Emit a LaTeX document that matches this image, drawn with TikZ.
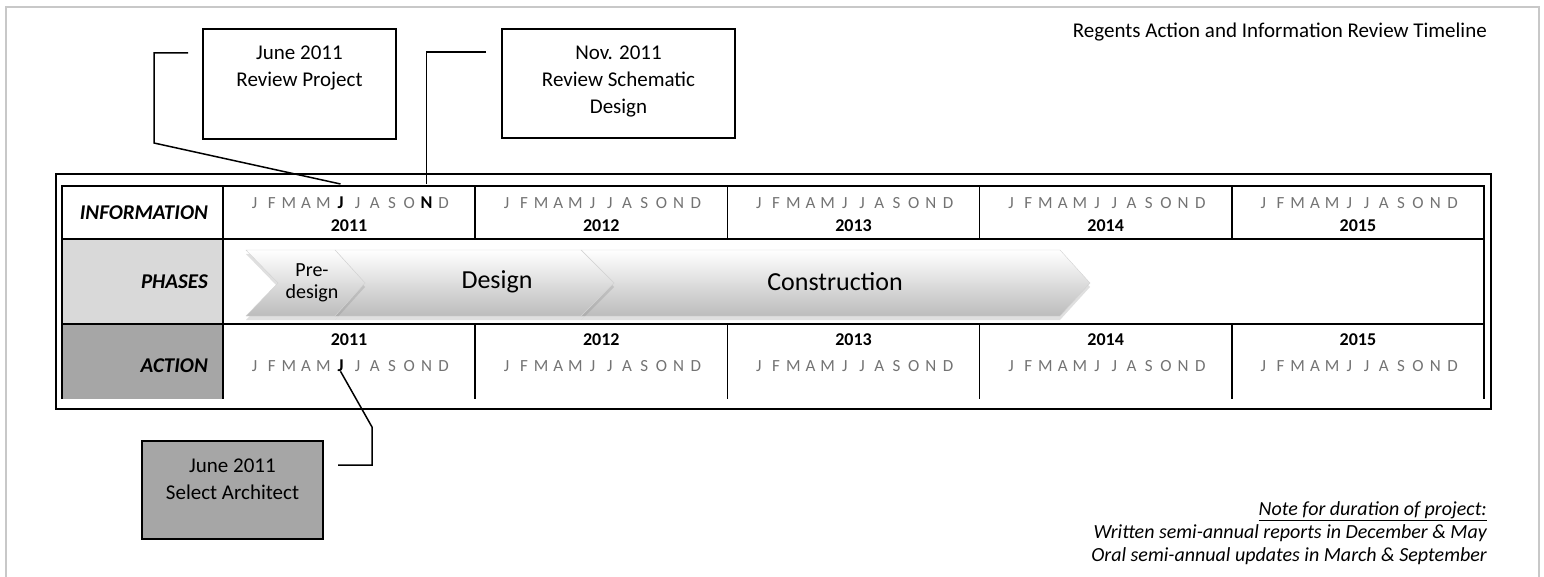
\documentclass[tikz,border=0pt]{standalone}
\usepackage{fontspec}
\setmainfont{Carlito}
\usepackage{tikz}
\usetikzlibrary{positioning,shadows}

\definecolor{framegray}{HTML}{C8C8C8}
\definecolor{monthgray}{HTML}{737373}
\definecolor{phasefill}{HTML}{D9D9D9}
\definecolor{actionfill}{HTML}{A6A6A6}
\definecolor{chevbot}{HTML}{BCBCBC}

\begin{document}
\begin{tikzpicture}[x=1pt,y=-1pt,
	callout/.style={draw=black,line width=1.5pt,inner sep=0pt},
	calltext/.style={font=\fontsize{21}{27}\selectfont,align=center,inner sep=0pt},
	month/.style={font=\fontsize{17}{18}\selectfont,text=monthgray,inner sep=0pt,anchor=base},
	hot/.style={month,font=\bfseries\fontsize{18}{18}\selectfont,text=black},
	year/.style={font=\bfseries\fontsize{18}{20}\selectfont,inner sep=0pt,anchor=base},
	rowlabel/.style={font=\bfseries\itshape\fontsize{21}{24}\selectfont,anchor=east,inner sep=0pt},
	chevron/.style={draw=gray!35,line width=0.4pt,top color=white,bottom color=chevbot,
		drop shadow={opacity=0.25,shadow xshift=0pt,shadow yshift=-4pt}},
	phase/.style={align=center,inner sep=0pt},
	leader/.style={line width=1.5pt},
	notetext/.style={font=\itshape\fontsize{20}{23}\selectfont,inner sep=0pt}]

		\useasboundingbox (0,0) rectangle (1544,577);

		%page frame
		\draw[framegray,line width=2pt] (5.5,577) -- (5.5,7) -- (1538.5,7) -- (1538.5,577);

		%title
		\node[font=\fontsize{21}{25}\selectfont,anchor=east,inner sep=0pt] (ttl) at (1487,32) {Regents Action and Information Review Timeline};

		%header cells
		\fill[phasefill] (62,239) rectangle (223,324);
		\fill[actionfill] (62,324) rectangle (223,399);

		%grid
		\draw[line width=1.5pt] (62,399) -- (62,186) -- (1484,186) -- (1484,399);
		\draw[line width=1.5pt] (62,239) -- (1484,239) (62,324) -- (1484,324);
		\draw[line width=1.5pt] (223,186) -- (223,399);
		\foreach \x in {475.2,727.4,979.6,1231.8}
			\draw[line width=1.5pt] (\x,186) -- (\x,239) (\x,324) -- (\x,399);
		\draw[line width=2pt] (56,174) rectangle (1491,409);

		%row labels
		\node[rowlabel] (info) at (208,213) {INFORMATION};
		\node[rowlabel] (phs) at (208,282) {PHASES};
		\node[rowlabel] (act) at (208,366) {ACTION};

		%years and months
		\foreach \yr [count=\col from 0] in {2011,...,2015}{
			\pgfmathsetmacro\cx{349.1+252.2*\col}
			\node[year] (iy\yr) at (\cx,232) {\yr};
			\node[year] (ay\yr) at (\cx,345) {\yr};
			\foreach \mon [count=\k from 0] in {J,F,M,A,M,J,J,A,S,O,N,D}{
				\def\istyle{month}\def\astyle{month}
				\ifnum\col=0 \ifnum\k=5 \def\istyle{hot}\def\astyle{hot}\fi \ifnum\k=10 \def\istyle{hot}\fi\fi
				\node[\istyle] (i\yr m\k) at ({\cx+(\k-5.5)*17.2},209) {\mon};
				\node[\astyle] (a\yr m\k) at ({\cx+(\k-5.5)*17.2},371) {\mon};
			}
		}

		%phases
		\path[chevron] (581,250) -- (1060,250) -- (1090,283) -- (1060,316) -- (581,316) -- (614,283) -- cycle;
		\path[chevron] (335,250) -- (581,250) -- (614,283) -- (581,316) -- (335,316) -- (365,283) -- cycle;
		\path[chevron] (246,250) -- (335,250) -- (365,283) -- (335,316) -- (246,316) -- (278,283) -- cycle;
		\node[phase,font=\fontsize{20}{22}\selectfont] (pre) at (312,283) {Pre-\\design};
		\node[phase,font=\fontsize{26}{30}\selectfont] (dsg) at (497,282) {Design};
		\node[phase,font=\fontsize{26}{30}\selectfont] (cns) at (835,282) {Construction};

		%callouts
		\node[callout,minimum width=193,minimum height=110] (rp) at (299.5,84) {};
		\node[calltext,below=17pt of rp.north] (rpt) {June 2011\\Review Project};
		\node[callout,minimum width=233,minimum height=109] (rs) at (618.5,83.5) {};
		\node[calltext,below=17pt of rs.north] (rst) {Nov. 2011\\Review Schematic\\Design};
		\node[callout,fill=actionfill,minimum width=181,minimum height=98] (sa) at (232.5,490) {};
		\node[calltext,below=18pt of sa.north] (sat) {June 2011\\Select Architect};

		%leaders
		\coordinate (top) at (0,184);
		\coordinate (rpa) at (188,53);
		\coordinate (rpb) at (154,143);
		\coordinate (rsa) at (486,52);
		\coordinate (saa) at (338,465);
		\coordinate (sab) at (372,427);
		\draw[leader] (rpa) -| (rpb) -- (i2011m5 |- top);
		\draw[leader] (rsa) -| (i2011m10 |- top);
		\draw[leader] (saa) -| (sab) -- (a2011m5.south);

		%note
		\node[notetext,anchor=base east] (note1) at (1487,515) {\underline{Note for duration of project:}};
		\node[notetext,below=23pt of note1.base east,anchor=base east] (note2) {Written semi-annual reports in December \& May};
		\node[notetext,below=23pt of note2.base east,anchor=base east] (note3) {Oral semi-annual updates in March \& September};

\end{tikzpicture}
\end{document}
